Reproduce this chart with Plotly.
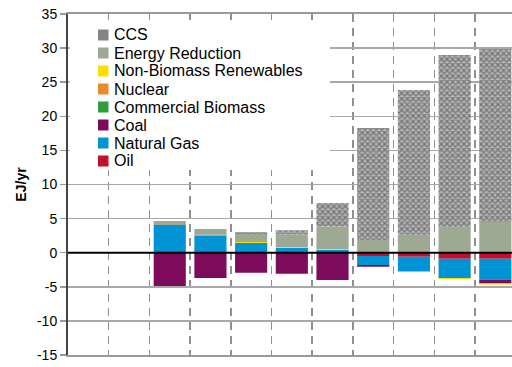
import plotly.graph_objects as go

# Категории (11 периодов, первые два пустые)
periods = ["P1", "P2", "P3", "P4", "P5", "P6", "P7", "P8", "P9", "P10", "P11"]

# Значения по источникам, EJ/yr
oil = [None, None, 0, 0, 0, 0, 0, -0.5, -0.6, -0.9, -0.9]
natural_gas = [None, None, 4.06, 2.52, 1.42, 0.69, 0.40, -1.32, -2.15, -2.8, -3.08]
coal = [None, None, -4.88, -3.71, -2.93, -3.08, -4.0, -0.25, 0, 0, -0.54]
commercial_biomass = [None, None, 0, 0, 0, 0, 0, 0, 0, 0, 0]
nuclear = [None, None, 0, 0.1, 0, 0, 0, 0, 0, 0, 0]
renewables = [None, None, 0, 0, 0.15, 0.15, 0.15, 0, 0.1, -0.15, -0.15]
energy_reduction = [None, None, 0.59, 0.85, 1.17, 1.86, 3.26, 1.86, 2.54, 3.67, 4.5]
ccs = [None, None, 0, 0, 0.3, 0.58, 3.48, 16.44, 21.22, 25.33, 25.37]

# Деления оси Y (с обычным дефисом, как в оригинале)
y_ticks = [-15, -10, -5, 0, 5, 10, 15, 20, 25, 30, 35]
y_tick_labels = ["-15", "-10", "-5", "0", "5", "10", "15", "20", "25", "30", "35"]

series = [
    ("Oil", oil, "#C0112B"),
    ("Natural Gas", natural_gas, "#0094D4"),
    ("Coal", coal, "#7E0A5B"),
    ("Commercial Biomass", commercial_biomass, "#2E9E3B"),
    ("Nuclear", nuclear, "#E8892B"),
    ("Non-Biomass Renewables", renewables, "#FFDD00"),
    ("Energy Reduction", energy_reduction, "#9EA993"),
    ("CCS", ccs, "#858585"),
]

FONT = "Liberation Sans, Arial, sans-serif"

# Геометрия области построения, px
L, R, T, B = 68, 512, 14, 355


def px_x(x):
    return (x - L) / (R - L)


def px_y(y):
    return (B - y) / (B - T)


fig = go.Figure()

for name, vals, color in series:
    marker = dict(color=color, line_width=0)
    if name == "CCS":
        marker = dict(color="#aaaaaa", line_width=0,
                      pattern=dict(shape="x", fgcolor="#333333", bgcolor="#b4b4b4",
                                   size=4, solidity=0.5))
    fig.add_trace(go.Bar(x=periods, y=vals, name=name, marker=marker,
                         width=0.79, showlegend=False))

shapes = [
    # нулевая линия поверх столбцов
    dict(type="line", xref="paper", x0=0, x1=1, yref="y", y0=0, y1=0,
         line=dict(color="black", width=2), layer="above"),
    # белый фон легенды
    dict(type="rect", xref="paper", yref="paper",
         x0=px_x(69.5), x1=px_x(330), y0=px_y(170), y1=px_y(20),
         fillcolor="white", line_width=0, layer="above"),
]
annotations = []

# Ручная легенда: CCS сверху, Oil снизу
for i, (name, vals, color) in enumerate(reversed(series)):
    cy = 35 + 18 * i
    shapes.append(dict(type="rect", xref="paper", yref="paper",
                       x0=px_x(98), x1=px_x(108.5), y0=px_y(cy + 5.5), y1=px_y(cy - 5.5),
                       fillcolor=color, line_width=0, layer="above"))
    annotations.append(dict(xref="paper", yref="paper", x=px_x(112), y=px_y(cy),
                            text=name, showarrow=False, xanchor="left", yanchor="middle",
                            font=dict(family=FONT, size=16, color="black")))

fig.update_layout(
    width=512, height=367,
    margin=dict(l=L, r=512 - R, t=T, b=367 - B),
    paper_bgcolor="white", plot_bgcolor="white",
    barmode="relative",
    font=dict(family=FONT, size=13, color="black"),
    shapes=shapes,
    annotations=annotations,
    xaxis=dict(type="category", categoryorder="array", categoryarray=periods,
               range=[-0.5, 10.41], showticklabels=False, ticks="",
               tickson="boundaries", showgrid=True, gridcolor="#8f8f8f", gridwidth=1.5,
               griddash="8px,6px", showline=True, mirror=True, linecolor="#999999",
               linewidth=2, zeroline=False, fixedrange=True),
    yaxis=dict(range=[-15, 35], tickvals=y_ticks, ticktext=y_tick_labels,
               showgrid=True, gridcolor="#a8a8a8",
               gridwidth=1.5, zeroline=False, showline=True, linecolor="#444444",
               linewidth=2, ticks="outside", ticklen=6, tickcolor="#999999", tickwidth=1.5,
               tickfont=dict(size=14),
               title=dict(text="<b>EJ/yr</b>", font=dict(size=14), standoff=7)),
)

fig.write_html("out.html", config={"displayModeBar": False, "staticPlot": True},
               post_script="document.body.style.margin='0';document.body.style.overflow='hidden';")
